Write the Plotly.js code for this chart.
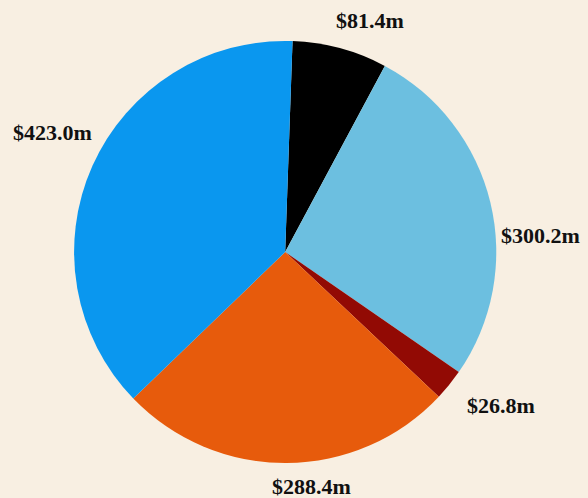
<!DOCTYPE html>
<html>
<head>
<meta charset="utf-8">
<script src="https://cdn.plot.ly/plotly-3.0.1.min.js"></script>
<style>
  html, body { margin: 0; padding: 0; background: #f8efe2; }
  #chart { width: 588px; height: 498px; }
</style>
</head>
<body>
<div id="chart"></div>
<script>
const categories = ["A", "B", "C", "D", "E"];
const values = [81.4, 300.2, 26.8, 288.4, 423.0];
const labels = ["$81.4m", "$300.2m", "$26.8m", "$288.4m", "$423.0m"];
const colors = ["#000000", "#6cbfe0", "#920a04", "#e75b0c", "#0a97ef"];

// label placement (paper coordinates) for each slice's value label
const labelPos = [
  [0.629, 0.958],
  [0.920, 0.528],
  [0.852, 0.185],
  [0.529, 0.024],
  [0.090, 0.733]
];

const labelFont = { family: "Liberation Serif, DejaVu Serif, serif", size: 22, color: "#111111", weight: "bold" };

const trace = {
  type: "pie",
  labels: categories,
  values: values,
  textinfo: "none",
  sort: false,
  direction: "clockwise",
  rotation: 2,
  marker: { colors: colors, line: { width: 0 } },
  domain: { x: [0.126, 0.844], y: [0.070, 0.918] },
  hoverinfo: "none",
  automargin: false
};

const layout = {
  width: 588,
  height: 498,
  margin: { l: 0, r: 0, t: 0, b: 0 },
  paper_bgcolor: "#f8efe2",
  plot_bgcolor: "#f8efe2",
  showlegend: false,
  annotations: labels.map((t, i) => ({
    text: t,
    xref: "paper",
    yref: "paper",
    x: labelPos[i][0],
    y: labelPos[i][1],
    xanchor: "center",
    yanchor: "middle",
    showarrow: false,
    font: labelFont
  }))
};

Plotly.newPlot("chart", [trace], layout, { displayModeBar: false, staticPlot: true });
</script>
</body>
</html>
